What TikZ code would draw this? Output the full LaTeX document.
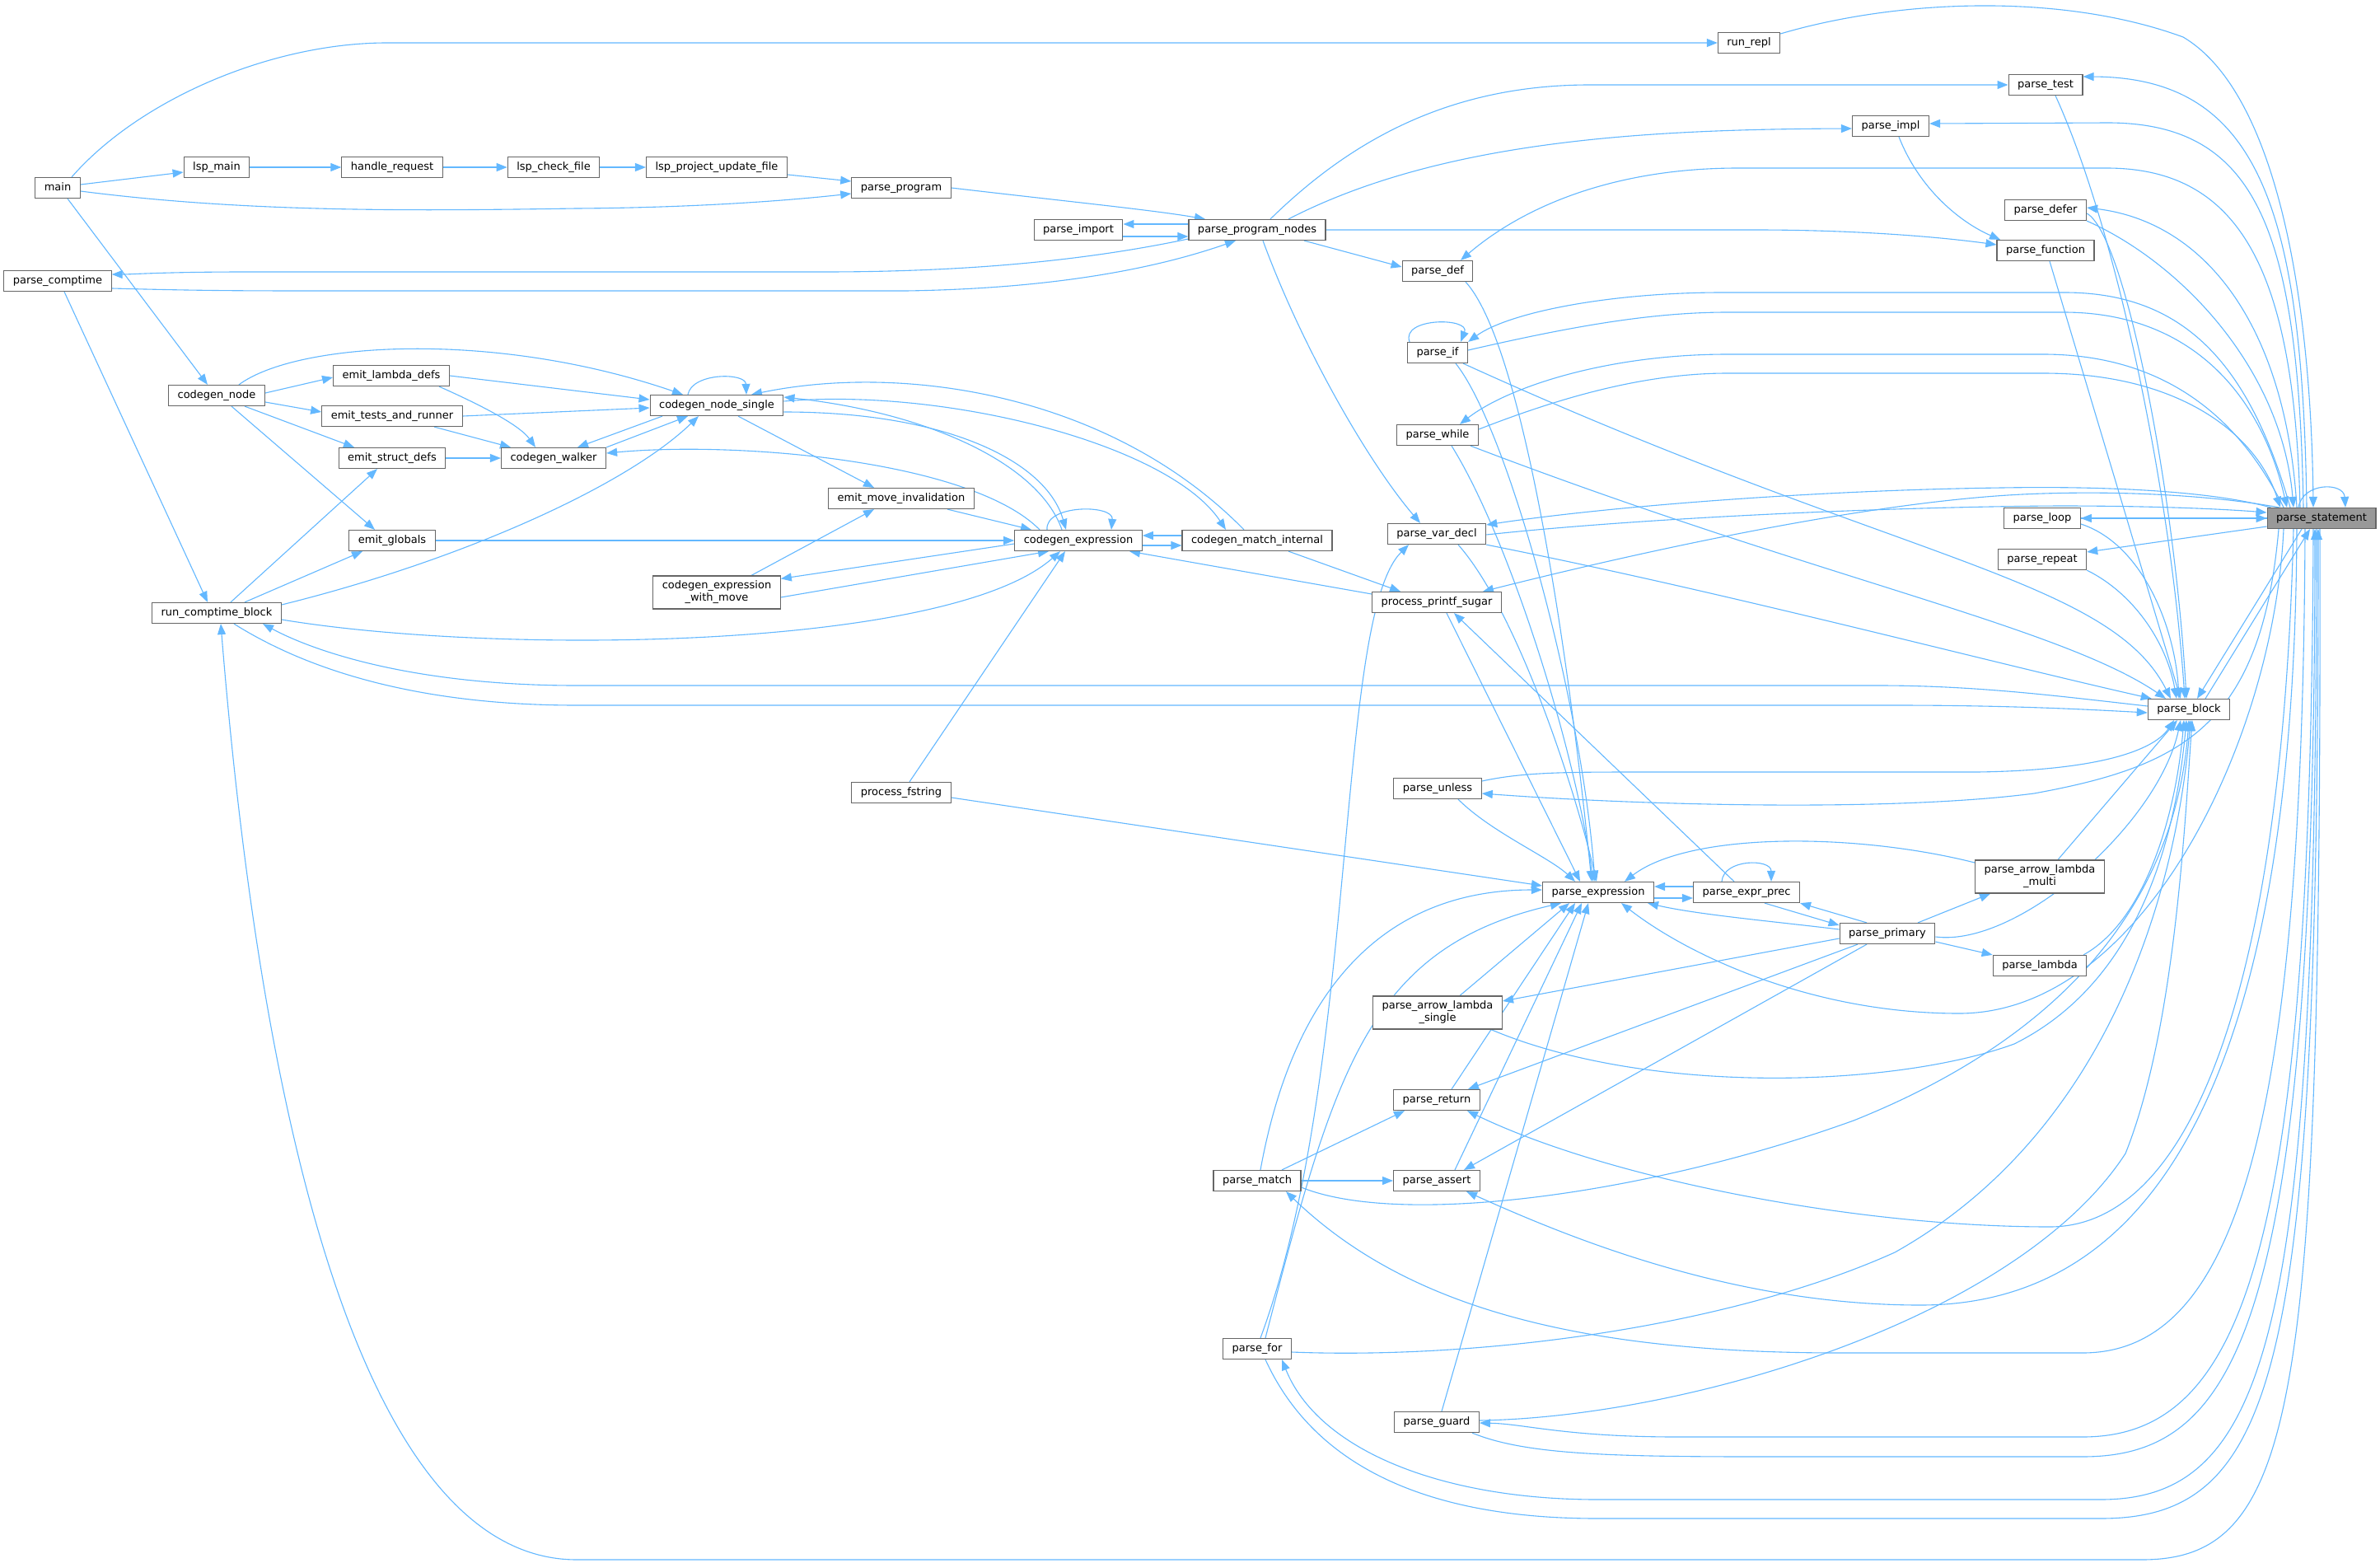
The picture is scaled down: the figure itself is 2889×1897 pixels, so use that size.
\documentclass[tikz,border=0pt]{standalone}
\usepackage{fontspec}
\setmainfont{DejaVu Sans}
\usetikzlibrary{arrows.meta}
\definecolor{edgeblue}{HTML}{63B8FF}
\definecolor{boxgray}{HTML}{666666}
\definecolor{focusgray}{HTML}{999999}
\pgfdeclarelayer{edges}
\pgfsetlayers{edges,main}
\tikzset{
  fnbox/.style={draw=boxgray, line width=1.2pt, fill=white, font=\fontsize{13}{15}\selectfont,
    inner xsep=11pt, inner ysep=0pt, minimum height=25pt, text height=9.5pt, text depth=3pt},
  fnwide/.style={draw=boxgray, line width=1.2pt, fill=white, font=\fontsize{13}{15}\selectfont,
    inner xsep=11pt, inner ysep=2pt, minimum height=40pt, align=center},
  focus/.style={fnbox, fill=focusgray},
  call/.style={draw=edgeblue, line width=1.1pt, -{Triangle[length=13pt,width=10pt]}}
}
\begin{document}
\begin{tikzpicture}[x=1pt, y=-1pt]
\useasboundingbox (0,0) rectangle (2889,1897);

\node[fnbox] (main) at (70,228) {main};
\node[fnbox] (lspmain) at (263,203) {lsp\_main};
\node[fnbox] (handle) at (476,203) {handle\_request};
\node[fnbox] (check) at (672,203) {lsp\_check\_file};
\node[fnbox] (update) at (870,203) {lsp\_project\_update\_file};
\node[fnbox] (runrepl) at (2123,52) {run\_repl};
\node[fnbox] (comptime) at (70,341) {parse\_comptime};
\node[fnbox] (program) at (1094,228) {parse\_program};
\node[fnbox] (import) at (1309,279) {parse\_import};
\node[fnbox] (nodes) at (1526,279) {parse\_program\_nodes};
\node[fnbox] (def) at (1745,329) {parse\_def};
\node[fnbox] (test) at (2483,103) {parse\_test};
\node[fnbox] (impl) at (2295,153) {parse\_impl};
\node[fnbox] (defer) at (2483,255) {parse\_defer};
\node[fnbox] (function) at (2483,304) {parse\_function};
\node[fnbox] (pif) at (1745,428) {parse\_if};
\node[fnbox] (pwhile) at (1745,528) {parse\_while};
\node[fnbox] (vardecl) at (1744,648) {parse\_var\_decl};
\node[fnbox] (printf) at (1744,731) {process\_printf\_sugar};
\node[fnbox] (unless) at (1745,957) {parse\_unless};
\node[fnbox] (expr) at (1940,1083) {parse\_expression};
\node[fnbox] (prec) at (2120,1083) {parse\_expr\_prec};
\node[fnbox] (primary) at (2291,1133) {parse\_primary};
\node[fnwide] (multi) at (2476,1064) {parse\_arrow\_lambda\\\_multi};
\node[fnbox] (lambda) at (2476,1172) {parse\_lambda};
\node[fnwide] (single) at (1745,1229) {parse\_arrow\_lambda\\\_single};
\node[fnbox] (pret) at (1744,1335) {parse\_return};
\node[fnbox] (assert) at (1744,1433) {parse\_assert};
\node[fnbox] (match) at (1526,1433) {parse\_match};
\node[fnbox] (pfor) at (1526,1637) {parse\_for};
\node[fnbox] (guard) at (1744,1726) {parse\_guard};
\node[fnbox] (loop) at (2479,629) {parse\_loop};
\node[fnbox] (repeat) at (2479,679) {parse\_repeat};
\node[focus] (stmt) at (2818,629) {parse\_statement};
\node[fnbox] (block) at (2657,861) {parse\_block};
\node[fnbox] (cgnode) at (263,480) {codegen\_node};
\node[fnbox] (lambdadefs) at (475,456) {emit\_lambda\_defs};
\node[fnbox] (tests) at (476,505) {emit\_tests\_and\_runner};
\node[fnbox] (structs) at (476,556) {emit\_struct\_defs};
\node[fnbox] (walker) at (672,556) {codegen\_walker};
\node[fnbox] (cgsingle) at (870,492) {codegen\_node\_single};
\node[fnbox] (globals) at (476,656) {emit\_globals};
\node[fnbox] (ctblock) at (263,744) {run\_comptime\_block};
\node[fnwide] (withmove) at (870,719) {codegen\_expression\\\_with\_move};
\node[fnbox] (moveinv) at (1094,605) {emit\_move\_invalidation};
\node[fnbox] (cgexpr) at (1309,656) {codegen\_expression};
\node[fnbox] (matchint) at (1526,656) {codegen\_match\_internal};
\node[fnbox] (fstring) at (1094,962) {process\_fstring};

\begin{pgfonlayer}{edges}
\fill[white] (0,0) rectangle (2889,1897);

\draw[call] ([yshift=4pt]main.east) -- ([yshift=-6pt]lspmain.west);
\draw[call] (lspmain) -- (handle);
\draw[call] (handle) -- (check);
\draw[call] (check) -- (update);
\draw[call] ([yshift=-9pt]update.east) -- ([yshift=8pt]program.west);
\draw[call] ([yshift=-4pt]main.east) .. controls (300,258) and (500,256) .. (700,253) .. controls (850,252) and (960,243) .. ([yshift=-7pt]program.west);
\draw[call] ([xshift=17pt]main.north) .. controls (170,120) and (330,52) .. (470,52) -- (runrepl.west);
\draw[call] ([xshift=12pt]main.south) -- ([xshift=-11pt]cgnode.north);
\draw[call] ([yshift=11pt]runrepl.east) .. controls (2300,0) and (2500,-10) .. (2650,45) .. controls (2760,110) and (2805,350) .. ([xshift=-10pt]stmt.north);

\draw[call] (program.east) .. controls (1300,245) and (1400,255) .. ([xshift=-63pt]nodes.north);
\draw[call] ([yshift=7pt]nodes.west) -- ([yshift=7pt]import.east);
\draw[call] ([yshift=-8pt]import.east) -- ([yshift=-8pt]nodes.west);
\draw[call] ([yshift=-11pt]nodes.west) .. controls (1300,320) and (1150,330) .. (1000,330) -- (300,330) .. controls (200,330) and (160,333) .. ([yshift=8pt]comptime.east);
\draw[call] ([yshift=-9pt]comptime.east) .. controls (250,353) and (300,353) .. (400,353) -- (1100,353) .. controls (1300,350) and (1420,320) .. ([xshift=-26pt]nodes.south);
\draw[call] ([xshift=57pt]nodes.south) -- ([yshift=5pt]def.west);
\draw[call] ([xshift=16pt]nodes.north) .. controls (1640,170) and (1760,103) .. (1930,103) -- (test.west);
\draw[call] ([xshift=38pt]nodes.north) .. controls (1750,170) and (2000,157) .. ([yshift=-3pt]impl.west);
\draw[call] (nodes.east) -- (2130,279) .. controls (2250,279) and (2350,287) .. ([yshift=7pt]function.west);
\draw[call] ([xshift=7pt]nodes.south) .. controls (1580,420) and (1660,560) .. ([xshift=-20pt]vardecl.north);
\draw[call] ([xshift=8pt]comptime.south) -- ([xshift=-11pt]ctblock.north);

\draw[call] ([xshift=-18pt]stmt.north) .. controls (2795,250) and (2740,94) .. ([yshift=10pt]test.east);
\draw[call] ([xshift=-22pt]stmt.north) .. controls (2790,280) and (2740,150) .. (2560,149) -- ([yshift=3pt]impl.east);
\draw[call] ([xshift=-26pt]stmt.north) .. controls (2785,330) and (2720,204) .. (2557,204) -- (2110,204) .. controls (1960,204) and (1850,250) .. ([xshift=28pt]def.north);
\draw[call] ([xshift=-30pt]stmt.north) .. controls (2775,400) and (2680,270) .. ([yshift=3pt]defer.east);
\draw[call] (defer.south east) .. controls (2650,320) and (2770,450) .. ([xshift=-34pt]stmt.north);
\draw[call] ([yshift=-4pt]defer.east) .. controls (2580,285) and (2640,600) .. ([xshift=-3pt]block.north);
\draw[call] ([xshift=12pt]test.south) .. controls (2570,280) and (2635,600) .. ([xshift=-5pt]block.north);
\draw[call] ([xshift=5pt]function.south) -- ([xshift=-10pt]block.north);
\draw[call] ([xshift=10pt]impl.south) .. controls (2330,230) and (2380,270) .. ([xshift=-55pt]function.north);

\draw[call] ([xshift=-38pt]stmt.north) .. controls (2730,440) and (2650,355) .. (2506,355) -- (2091,355) .. controls (1950,355) and (1830,380) .. (pif.north east);
\draw[call] ([yshift=3pt]pif.east) .. controls (1900,398) and (2000,379) .. (2097,379) -- (2505,379) .. controls (2660,379) and (2745,480) .. ([xshift=-42pt]stmt.north);
\draw[call] ([xshift=-34pt]pif.north) .. controls (1700,385) and (1785,385) .. ([xshift=28pt]pif.north);
\draw[call] ([xshift=31pt]pif.south) .. controls (2300,680) and (2560,700) .. ([xshift=-22pt]block.north);
\draw[call] ([xshift=22pt]pif.south) .. controls (1830,520) and (1920,850) .. ([xshift=-4pt]expr.north);

\draw[call] ([xshift=-46pt]stmt.north) .. controls (2710,490) and (2610,430) .. (2480,430) -- (2097,430) .. controls (1950,430) and (1830,470) .. ([xshift=27pt]pwhile.north);
\draw[call] ([yshift=7pt]pwhile.east) .. controls (1900,480) and (2000,453) .. (2097,453) -- (2480,453) .. controls (2650,453) and (2740,530) .. ([xshift=-50pt]stmt.north);
\draw[call] ([xshift=40pt]pwhile.south) .. controls (2200,700) and (2500,760) .. ([xshift=-28pt]block.north);
\draw[call] ([xshift=17pt]pwhile.south) .. controls (1830,650) and (1910,900) .. ([xshift=-6pt]expr.north);
\draw[call] ([xshift=34pt]def.south) .. controls (1850,420) and (1905,800) .. ([xshift=-8pt]expr.north);

\draw[call] ([xshift=5pt]stmt.north west) .. controls (2680,595) and (2550,590) .. (2430,592) .. controls (2200,595) and (1950,615) .. ([yshift=11pt]vardecl.east);
\draw[call] ([yshift=-1pt]vardecl.east) .. controls (2000,628) and (2300,615) .. (2500,614) .. controls (2620,614) and (2700,618) .. ([yshift=7pt]stmt.west);
\draw[call] (vardecl.south east) .. controls (2100,720) and (2400,800) .. ([xshift=5pt]block.north west);
\draw[call] ([xshift=26pt]vardecl.south) .. controls (1840,740) and (1910,950) .. ([xshift=-2pt]expr.north);
\draw[call] ([xshift=4pt]pfor.north) .. controls (1650,1300) and (1620,750) .. ([xshift=-34pt]vardecl.south);

\draw[call] ([xshift=15pt]stmt.north west) .. controls (2680,600) and (2560,595) .. (2455,600) .. controls (2250,610) and (1950,680) .. ([xshift=56pt]printf.north);
\draw[call] ([xshift=38pt]matchint.south) -- ([xshift=-44pt]printf.north);
\draw[call] ([yshift=10pt]printf.west) -- ([xshift=62pt]cgexpr.south);
\draw[call] ([xshift=12pt]printf.south) -- ([xshift=-22pt]expr.north);
\draw[call] ([xshift=-15pt]prec.north) -- ([xshift=21pt]printf.south);

\draw[call] (stmt.west) -- (loop.east);
\draw[call] (loop.east) -- (stmt.west);
\draw[call] ([yshift=-10pt]stmt.west) -- ([yshift=9pt]repeat.east);
\draw[call] ([yshift=-7pt]loop.east) .. controls (2600,660) and (2640,760) .. ([xshift=-12pt]block.north);
\draw[call] (repeat.south east) .. controls (2590,720) and (2630,780) .. ([xshift=-15pt]block.north);
\draw[call] ([xshift=-28pt]stmt.north) .. controls (2795,585) and (2845,585) .. ([xshift=29pt]stmt.north);
\draw[call] ([xshift=-24pt]stmt.south) -- ([xshift=10pt]block.north);
\draw[call] ([xshift=20pt]block.north) -- ([xshift=-14pt]stmt.south);

\draw[call] ([xshift=-52pt]stmt.south) .. controls (2745,880) and (2650,930) .. (2469,963) .. controls (2300,985) and (2000,978) .. ([yshift=-6pt]unless.east);
\draw[call] ([yshift=9pt]unless.east) .. controls (1850,937) and (1900,937) .. (2000,937) -- (2400,937) .. controls (2550,935) and (2615,910) .. ([xshift=-18pt]block.south);
\draw[call] ([xshift=25pt]unless.south) .. controls (1810,1010) and (1880,1040) .. ([xshift=-28pt]expr.north);

\draw[call] ([yshift=-6pt]fstring.east) -- ([yshift=8pt]expr.west);
\draw[call] ([xshift=10pt]fstring.north) -- ([xshift=-16pt]cgexpr.south);
\draw[call] ([yshift=7pt]prec.west) -- ([yshift=7pt]expr.east);
\draw[call] ([yshift=-7pt]expr.east) -- ([yshift=-7pt]prec.west);
\draw[call] ([xshift=-30pt]prec.north) .. controls (2092,1042) and (2150,1042) .. ([xshift=30pt]prec.north);
\draw[call] ([xshift=22pt]prec.south) -- ([yshift=10pt]primary.west);
\draw[call] ([xshift=-25pt]primary.north) -- (prec.south east);
\draw[call] ([yshift=5pt]primary.west) .. controls (2150,1118) and (2060,1110) .. ([xshift=60pt]expr.south);
\draw[call] ([xshift=37pt]primary.north) -- ([xshift=-60pt]multi.south);
\draw[call] ([yshift=-10pt]primary.east) -- (lambda.north west);
\draw[call] ([yshift=-4pt]primary.east) .. controls (2450,1150) and (2620,1000) .. ([xshift=-10pt]block.south);
\draw[call] ([yshift=-6pt]primary.west) -- ([yshift=14pt]single.east);
\draw[call] ([xshift=-36pt]primary.south) -- ([xshift=38pt]pret.north);
\draw[call] ([xshift=-25pt]primary.south) -- ([xshift=33pt]assert.north);
\draw[call] ([yshift=17pt]multi.west) .. controls (2250,1010) and (2050,1010) .. ([xshift=32pt]expr.north);
\draw[call] ([xshift=22pt]multi.north) -- ([xshift=-14pt]block.south);
\draw[call] ([xshift=53pt]lambda.north) .. controls (2600,1120) and (2640,1000) .. ([xshift=-6pt]block.south);
\draw[call] ([xshift=27pt]single.north) -- ([xshift=-35pt]expr.south);
\draw[call] ([xshift=65pt]single.south) .. controls (2000,1330) and (2300,1320) .. (2445,1267) .. controls (2580,1200) and (2638,1050) .. ([xshift=-3pt]block.south);

\draw[call] ([xshift=18pt]pret.north) -- ([xshift=-28pt]expr.south);
\draw[call] ([xshift=30pt]match.north) -- ([xshift=-39pt]pret.south);
\draw[call] (match.east) -- (assert.west);
\draw[call] ([xshift=4pt]match.north) .. controls (1570,1200) and (1680,1080) .. ([yshift=3pt]expr.west);
\draw[call] ([yshift=-8pt]match.east) .. controls (1700,1490) and (2000,1450) .. (2250,1360) .. controls (2500,1260) and (2640,1100) .. (block.south);
\draw[call] ([xshift=22pt]assert.north) -- ([xshift=-20pt]expr.south);
\draw[call] ([xshift=6pt]guard.north) -- ([xshift=-12pt]expr.south);
\draw[call] ([xshift=10pt]pfor.north) .. controls (1620,1300) and (1660,1150) .. ([xshift=-45pt]expr.south);

\draw[call] ([xshift=-46pt]stmt.south) .. controls (2760,900) and (2600,1230) .. (2378,1230) .. controls (2200,1230) and (2050,1160) .. ([xshift=28pt]expr.south);
\draw[call] ([xshift=-34pt]stmt.south) .. controls (2770,1200) and (2660,1489) .. (2488,1489) .. controls (2250,1489) and (1950,1430) .. ([xshift=37pt]pret.south);
\draw[call] ([xshift=-30pt]stmt.south) .. controls (2785,1300) and (2620,1584) .. (2331,1584) .. controls (2100,1584) and (1900,1500) .. ([xshift=36pt]assert.south);
\draw[call] ([xshift=-20pt]stmt.south) .. controls (2795,1350) and (2720,1642) .. (2528,1642) -- (2233,1642) .. controls (1900,1642) and (1700,1580) .. ([xshift=35pt]match.south);
\draw[call] ([yshift=-4pt]pfor.east) .. controls (1800,1650) and (2100,1610) .. (2300,1520) .. controls (2550,1380) and (2640,1100) .. ([xshift=2pt]block.south);
\draw[call] ([yshift=2pt]guard.east) .. controls (2050,1720) and (2450,1600) .. (2580,1400) .. controls (2640,1250) and (2652,1000) .. ([xshift=4pt]block.south);
\draw[call] ([xshift=-10pt]stmt.south) .. controls (2805,1500) and (2730,1744) .. (2528,1744) -- (2036,1744) .. controls (1900,1744) and (1850,1728) .. ([yshift=-1pt]guard.east);
\draw[call] ([xshift=43pt]guard.south) .. controls (1850,1765) and (1950,1768) .. (2135,1768) -- (2528,1768) .. controls (2720,1768) and (2810,1600) .. ([xshift=-8pt]stmt.south);
\draw[call] ([xshift=-6pt]stmt.south) .. controls (2812,1600) and (2760,1820) .. (2550,1820) -- (1939,1820) .. controls (1750,1820) and (1600,1760) .. ([xshift=30pt]pfor.south);
\draw[call] ([xshift=10pt]pfor.south) .. controls (1600,1790) and (1750,1843) .. (1939,1843) -- (2550,1843) .. controls (2770,1843) and (2814,1650) .. ([xshift=-4pt]stmt.south);
\draw[call] ([xshift=-2pt]stmt.south) .. controls (2818,1700) and (2790,1893) .. (2600,1893) -- (700,1893) .. controls (450,1893) and (320,1400) .. ([xshift=5pt]ctblock.south);

\draw[call] ([xshift=21pt]ctblock.south) .. controls (400,830) and (550,856) .. (700,856) -- (2300,856) .. controls (2450,856) and (2550,862) .. ([yshift=-4pt]block.west);
\draw[call] ([yshift=4pt]block.west) .. controls (2500,845) and (2400,832) .. (2280,832) -- (700,832) .. controls (500,832) and (380,790) .. ([xshift=56pt]ctblock.south);
\draw[call] ([yshift=-8pt]ctblock.east) .. controls (600,795) and (1150,790) .. ([xshift=-22pt]cgexpr.south);
\draw[call] ([yshift=10pt]ctblock.east) .. controls (560,680) and (760,590) .. ([xshift=-22pt]cgsingle.south);
\draw[call] ([xshift=17pt]ctblock.north) -- ([xshift=-18pt]structs.south);
\draw[call] ([xshift=34pt]ctblock.north) -- ([xshift=-36pt]globals.south);

\draw[call] ([yshift=3pt]cgnode.east) -- ([yshift=-2pt]lambdadefs.west);
\draw[call] ([yshift=-8pt]cgnode.east) -- ([yshift=5pt]tests.west);
\draw[call] ([xshift=34pt]cgnode.south) -- ([xshift=-46pt]structs.north);
\draw[call] ([xshift=18pt]cgnode.south) -- ([xshift=-21pt]globals.north);
\draw[call] ([xshift=27pt]cgnode.north) .. controls (360,415) and (600,400) .. ([xshift=-41pt]cgsingle.north);
\draw[call] (lambdadefs.east) -- ([yshift=7pt]cgsingle.west);
\draw[call] (tests.east) -- ([yshift=-3pt]cgsingle.west);
\draw[call] ([xshift=58pt]lambdadefs.south) .. controls (580,490) and (630,515) .. ([xshift=-22pt]walker.north);
\draw[call] ([xshift=51pt]tests.south) -- ([xshift=-52pt]walker.north);
\draw[call] (structs.east) -- (walker.west);
\draw[call] ([xshift=-66pt]cgsingle.south) -- ([xshift=29pt]walker.north);
\draw[call] (walker.north east) -- ([xshift=-35pt]cgsingle.south);
\draw[call] ([xshift=-35pt]cgsingle.north) .. controls (840,452) and (905,452) .. ([xshift=36pt]cgsingle.north);
\draw[call] ([xshift=26pt]cgsingle.south) -- ([xshift=-33pt]moveinv.north);
\draw[call] ([xshift=42pt]withmove.north) -- ([xshift=-33pt]moveinv.south);
\draw[call] ([xshift=56pt]moveinv.south) -- ([xshift=-57pt]cgexpr.north);
\draw[call] (globals.east) -- (cgexpr.west);
\draw[call] ([yshift=-4pt]cgexpr.west) -- ([yshift=-4pt]withmove.north east);
\draw[call] ([yshift=-6pt]withmove.east) -- ([xshift=-36pt]cgexpr.south);
\draw[call] ([xshift=-38pt]cgexpr.north) .. controls (1268,612) and (1352,612) .. ([xshift=40pt]cgexpr.north);
\draw[call] ([yshift=6pt]matchint.west) -- ([yshift=6pt]cgexpr.east);
\draw[call] ([yshift=-6pt]cgexpr.east) -- ([yshift=-6pt]matchint.west);
\draw[call] ([xshift=-47pt]cgexpr.north) .. controls (1180,560) and (900,535) .. ([yshift=6pt]walker.east);
\draw[call] ([xshift=-20pt]cgexpr.north) .. controls (1260,560) and (1120,500) .. ([yshift=10pt]cgsingle.east);
\draw[call] ([yshift=-8pt]cgsingle.east) .. controls (1150,500) and (1270,560) .. ([xshift=-15pt]cgexpr.north);
\draw[call] ([yshift=5pt]cgsingle.east) .. controls (1150,470) and (1420,540) .. ([xshift=-38pt]matchint.north);
\draw[call] ([xshift=-16pt]matchint.north) .. controls (1350,480) and (1100,440) .. ([xshift=42pt]cgsingle.north);
\end{pgfonlayer}
\end{tikzpicture}
\end{document}
